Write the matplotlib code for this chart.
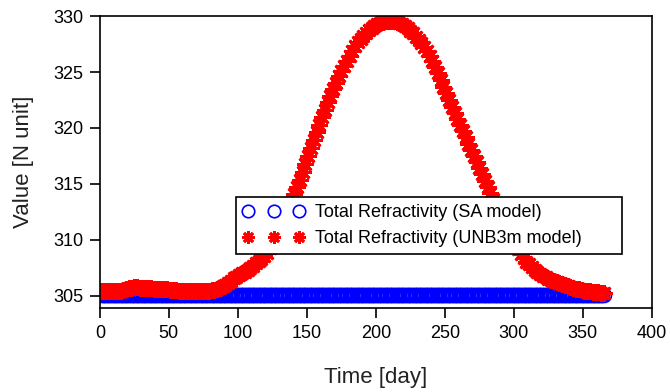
import matplotlib
matplotlib.use("Agg")
import matplotlib.pyplot as plt

plt.rcParams['font.family'] = ['Liberation Sans', 'DejaVu Sans']

# Day of year (every second day) for the UNB3m series
days = list(range(1, 366, 2))
# Day of year (daily) for the SA series
sa_days = list(range(1, 366))

# Total refractivity, SA model (constant)
sa_model = [305.04] * len(sa_days)

# Total refractivity, UNB3m model
unb3m_model = [
    305.45, 305.45, 305.45, 305.45, 305.45, 305.45, 305.45, 305.46, 305.52,
    305.65, 305.72, 305.74, 305.75, 305.75, 305.74, 305.74, 305.73, 305.72, 305.68,
    305.62, 305.60, 305.60, 305.60, 305.60, 305.58, 305.56, 305.52, 305.48,
    305.45, 305.45, 305.45, 305.45, 305.45, 305.45, 305.45, 305.45, 305.45, 305.45, 305.45, 305.45,
    305.48, 305.52, 305.60, 305.72, 305.85, 305.98, 306.15, 306.35, 306.55, 306.72,
    306.88, 307.02, 307.15, 307.32, 307.50, 307.70, 307.90, 308.10, 308.33, 308.55,
    308.85, 309.30, 309.80, 310.30, 310.85, 311.35, 311.90, 312.40, 312.95, 313.50,
    314.10, 314.70, 315.35, 316.05, 316.80, 317.50, 318.25, 318.95, 319.65, 320.30,
    320.95, 321.60, 322.30, 322.90, 323.50, 324.05, 324.60, 325.10, 325.55, 326.00,
    326.45, 326.90, 327.30, 327.65, 327.95, 328.25, 328.50, 328.75, 328.95, 329.12,
    329.25, 329.38, 329.48, 329.55, 329.60, 329.60, 329.56, 329.50, 329.40, 329.28,
    329.12, 328.92, 328.70, 328.45,
    328.15, 327.85, 327.55, 327.20, 326.85, 326.45, 325.95, 325.45, 324.90, 324.30,
    323.70, 323.10, 322.50, 321.90, 321.35, 320.80, 320.25, 319.70, 319.15, 318.60,
    318.05, 317.50, 316.95, 316.40, 315.85, 315.30, 314.75, 314.20, 313.65, 313.10,
    312.55, 312.05, 311.55, 311.05, 310.55, 310.10, 309.65, 309.20, 308.75, 308.40,
    308.05, 307.80, 307.55, 307.30, 307.10, 306.95, 306.80, 306.65, 306.52, 306.40,
    306.30, 306.20, 306.10, 306.02, 305.95, 305.88, 305.80, 305.73, 305.65, 305.58,
    305.52, 305.47, 305.43, 305.40, 305.37, 305.34, 305.31, 305.28, 305.25,
]

x_ticks = [0, 50, 100, 150, 200, 250, 300, 350, 400]
y_ticks = [305, 310, 315, 320, 325, 330]

fig = plt.figure(figsize=(6.7, 3.92), dpi=100)
ax = fig.add_axes([0.149, 0.214, 0.824, 0.745])

ax.plot(sa_days, sa_model, linestyle='none', marker='o', markersize=10,
        markerfacecolor='none', markeredgecolor='#0000ff', markeredgewidth=1.2,
        label='Total Refractivity (SA model)')
# thick band under the asterisks (connects the same points)
ax.plot(days, unb3m_model, linestyle='-', color='#ff0000', linewidth=7,
        solid_capstyle='round')
ax.plot(days, unb3m_model, linestyle='none', marker=(8, 2, 0), markersize=12,
        markeredgecolor='#ff0000', markerfacecolor='#ff0000', markeredgewidth=2,
        label='Total Refractivity (UNB3m model)')

ax.set_xlim(0, 400)
ax.set_ylim(303.9, 330)
ax.set_xticks(x_ticks)
ax.set_yticks(y_ticks)
ax.tick_params(axis='both', direction='out', length=7, width=1.2, labelsize=13,
               colors='black', pad=5)
for s in ax.spines.values():
    s.set_linewidth(1.2)
    s.set_color('black')

ax.set_xlabel('Time [day]', fontsize=16, labelpad=18, color='#222222')
ax.set_ylabel('Value [N unit]', fontsize=16, labelpad=14, color='#222222')

leg = ax.legend(loc='lower left', bbox_to_anchor=(0.246, 0.185, 0.70, 0.236),
                mode='expand', borderaxespad=0, numpoints=3, handlelength=3.4,
                handletextpad=0.6, fontsize=13, fancybox=False, framealpha=1,
                edgecolor='black', borderpad=0.4, labelspacing=0.5)
leg.get_frame().set_linewidth(1.2)
for h in leg.legend_handles:
    h.set_markersize(9)

fig.savefig('out.png', dpi=100)
